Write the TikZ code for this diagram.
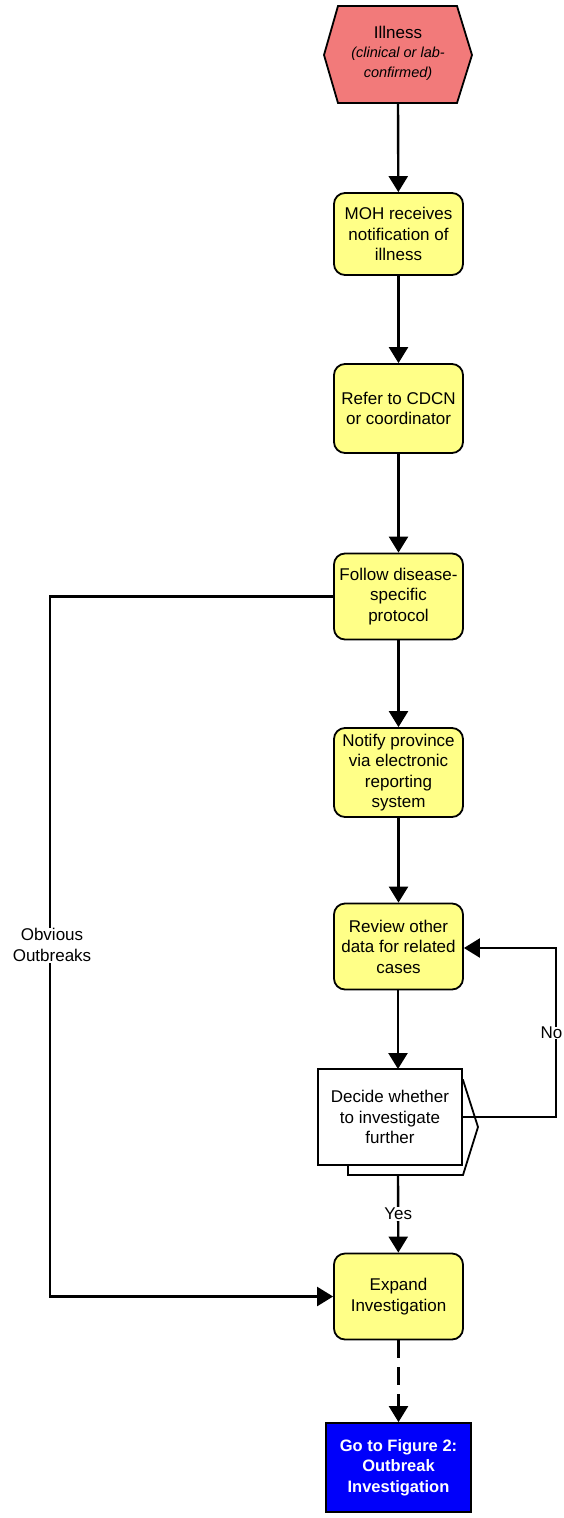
\documentclass[tikz,border=0pt]{standalone}
\usepackage{fontspec}
\setmainfont{Liberation Sans}
\usetikzlibrary{arrows.meta}
\definecolor{procyellow}{RGB}{255,255,135}
\definecolor{illred}{RGB}{242,122,122}
\definecolor{goblue}{RGB}{0,0,250}
\tikzset{
	proc/.style={draw, line width=1.8pt, rounded corners=11pt, fill=procyellow,
		minimum width=129pt, minimum height=86pt, inner xsep=1pt, align=center,
		font=\fontsize{17}{20.5}\selectfont},
	flow/.style={line width=2.4pt, -{Triangle[width=19pt,length=16pt]}},
	lbl/.style={fill=white, inner sep=1pt, align=center, font=\fontsize{17}{20.5}\selectfont}
}

\begin{document}
\begin{tikzpicture}[x=1pt,y=-1pt]
	\useasboundingbox (0,0) rectangle (564,1518);
	% start event
	\draw[line width=1.8pt, fill=illred] (324,55) -- (338,6) -- (457,6) -- (472,55) -- (457,103) -- (338,103) -- cycle;
	\node at (398,53) [minimum width=148pt, minimum height=97pt, align=center,
		font=\fontsize{17}{20}\selectfont] (ill)
		{Illness\\[-1pt]\fontsize{14.5}{17}\selectfont\itshape (clinical or lab-\\\fontsize{14.5}{17}\selectfont\itshape confirmed)};

	\node at (398.5,234) [proc, minimum height=82pt] (moh) {MOH receives\\notification of\\illness};
	\node at (398.5,408.5) [proc, minimum height=89pt] (ref) {Refer to CDCN\\or coordinator};
	\node at (398.5,596.5) [proc] (fol) {Follow disease-\\specific\\protocol};
	\node at (398.5,772.5) [proc, minimum height=89pt] (ntf) {Notify province\\via electronic\\reporting\\system};
	\node at (398.5,946.5) [proc] (rev) {Review other\\data for related\\cases};

	% decision with shadow shape
	\draw[line width=1.8pt, fill=white] (348,1160) -- (348,1175) -- (463,1175) -- (478,1127) -- (463,1080) -- (455,1080);
	\node at (390,1117) [draw, line width=1.8pt, fill=white, minimum width=144pt, minimum height=96pt,
		align=center, font=\fontsize{17}{20.5}\selectfont] (dec) {Decide whether\\to investigate\\further};
	\coordinate (decb) at (398,1175);

	\node at (398.5,1296.5) [proc] (exp) {Expand\\Investigation};
	\node at (398.5,1467.5) [draw, line width=1.8pt, fill=goblue, text=white, minimum width=145pt, minimum height=89pt,
		align=center, font=\fontsize{16.5}{20.5}\selectfont\bfseries] (fig) {Go to Figure 2:\\Outbreak\\Investigation};

	\draw [flow] (398,103) -- (moh);
	\draw [flow] (moh) -- (ref);
	\draw [flow] (ref) -- (fol);
	\draw [flow] (fol) -- (ntf);
	\draw [flow] (ntf) -- (rev);
	\draw [flow] (398,990) -- (398,1069);
	\draw [flow] (decb) -- (exp) node[pos=0.5, lbl] {Yes};
	\draw [flow, dash pattern=on 18pt off 9pt] (exp) -- (fig);

	% loop back and shortcut
	\draw [flow] (dec.east) -- (556,1117) -- (556,948) -- (rev.east |- 0,948);
	\node at (551.5,1033) [lbl, inner sep=0.5pt] (no) {No};
	\draw [flow] (fol.west) -- (50,596.5) -- (50,1296.5) -- (exp.west);
	\node at (52,945) [lbl] (obv) {Obvious\\Outbreaks};
\end{tikzpicture}
\end{document}
